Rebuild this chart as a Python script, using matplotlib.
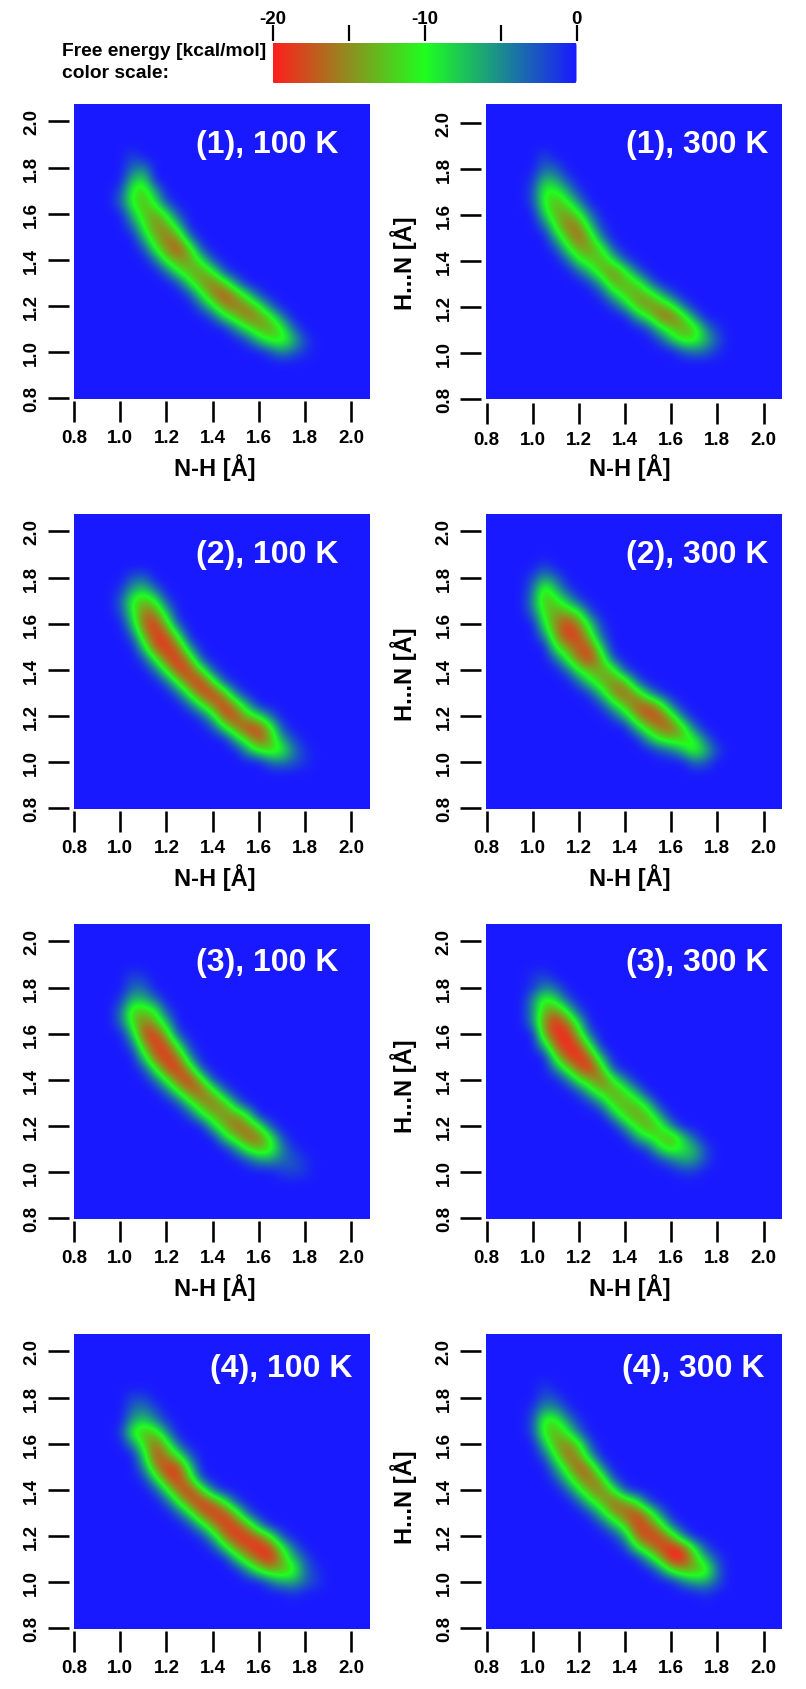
import numpy as np
import matplotlib
matplotlib.use("Agg")
import matplotlib.pyplot as plt
from matplotlib.colors import LinearSegmentedColormap, Normalize
from matplotlib.patches import FancyBboxPatch

plt.rcParams['font.family'] = ['Liberation Sans', 'DejaVu Sans']
plt.rcParams['font.weight'] = 'bold'

# Free-energy surface, kcal/mol.
# One row per Y_ROWS level; each row = [first N-H level, values at 0.05 steps]; anything else is 0.
X_LEVELS = [round(0.80 + 0.05 * i, 2) for i in range(27)]
Y_LEVELS = [round(2.10 - 0.05 * i, 2) for i in range(27)]
Y_ROWS = [1.85, 1.80, 1.75, 1.70, 1.65, 1.60, 1.55, 1.50, 1.45, 1.40,
          1.35, 1.30, 1.25, 1.20, 1.15, 1.10, 1.05, 1.00, 0.95]
# Correction of my eye readings, which ran shallow on the flanks of the band.
READ_SCALE = 18.0
READ_POWER = 0.8

P1_100 = [
    [1.05, -1], [1.05, -2, -3], [1.05, -5, -7], [1.00, -1, -8, -10, -4],
    [1.00, -2, -8, -11, -7, -1], [1.05, -5, -10, -12, -7, -1], [1.05, -2, -8, -13, -12, -5],
    [1.10, -5, -11, -14, -12, -2], [1.10, -1, -8, -13, -16, -10, -1], [1.15, -2, -9, -12, -12, -7, -1],
    [1.20, -2, -8, -11, -12, -8, -1], [1.25, -1, -7, -12, -14, -10, -3], [1.30, -1, -7, -13, -16, -12, -6, -1],
    [1.35, -2, -7, -13, -14, -13, -8, -2], [1.40, -1, -6, -10, -14, -13, -9, -3], [1.50, -3, -7, -11, -12, -8, -2],
    [1.55, -1, -5, -8, -9, -5, -1], [1.65, -1, -3, -1.5, -.5], []]
P1_300 = [
    [1.05, -1], [1.05, -2, -1.5], [1.00, -.5, -5, -4, -1], [1.00, -1, -8, -8, -4, -.5],
    [1.00, -1, -8, -11, -8, -3], [1.05, -6, -11, -12, -8, -2], [1.05, -2, -9, -14, -13, -5, -.5],
    [1.10, -5, -11, -15, -10, -2], [1.10, -1, -7, -12, -12, -8, -1], [1.15, -2, -8, -10, -11, -6, -1],
    [1.20, -2, -6, -11, -13, -8, -2], [1.25, -1, -5, -12, -11, -9, -3], [1.30, -1, -6, -10, -12, -10, -5, -1],
    [1.35, -1, -5, -11, -13, -12, -8, -2], [1.45, -4, -8, -14, -15, -10, -3], [1.50, -1, -6, -10, -12, -10, -3, -.5],
    [1.55, -1, -5, -9, -9, -5, -1.5], [1.65, -1.5, -2.5, -2, -.5], []]
P2_100 = [
    [], [1.05, -1.5, -2], [1.00, -.5, -4, -6, -2], [1.00, -1.5, -8, -11, -8, -1],
    [1.00, -1, -7, -14, -13, -5], [1.05, -5, -15, -17, -10, -1], [1.05, -1.5, -11, -17, -16, -7],
    [1.10, -6, -16, -17, -14, -3], [1.10, -1, -8, -16, -17, -11, -1], [1.15, -2, -9, -17, -16, -9, -1],
    [1.20, -2, -9, -16, -17, -9, -1], [1.25, -2, -9, -16, -17, -11, -2], [1.30, -2, -8, -14, -17, -11, -4],
    [1.35, -1, -6, -16, -16, -10, -7, -2], [1.40, -1, -7, -13, -17, -16, -9, -1], [1.50, -5, -10, -16, -11, -4, -1],
    [1.55, -4, -8, -10, -8, -2.5, -.5], [1.65, -2, -2.5, -1.5, -.5], []]
P2_300 = [
    [1.05, -1], [1.00, -1, -4, -2], [1.00, -2, -10, -5, -1], [1.00, -3, -11, -9, -5, -1],
    [1.00, -2, -9, -12, -11, -8, -1], [1.05, -7, -13, -17, -13, -6, -.5], [1.05, -3, -12, -17, -16, -9, -1.5],
    [1.10, -8, -12, -16, -15, -5], [1.10, -2, -8, -14, -17, -10, -1], [1.15, -2, -8, -11, -12, -9, -1],
    [1.20, -2, -7, -11, -13, -11, -2], [1.25, -1, -6, -13, -15, -11, -4, -.5], [1.30, -1, -6, -11, -15, -15, -10, -2],
    [1.35, -1, -5, -12, -16, -16, -10, -2], [1.45, -5, -10, -14, -15, -10, -2], [1.50, -4, -8, -10, -10, -8, -2],
    [1.55, -1, -2, -5, -9, -5, -1], [1.70, -2, -1.5], []]
P3_100 = [
    [1.05, -1, -.5], [1.05, -2, -2], [1.00, -.5, -5, -5, -2], [1.00, -2, -10, -10, -8, -1],
    [1.00, -2, -9, -14, -11, -5], [1.05, -5, -16, -17, -10, -1], [1.05, -1.5, -11, -17, -16, -7, -.5],
    [1.10, -6, -15, -17, -14, -3], [1.10, -1, -8, -16, -17, -11, -1], [1.15, -2, -8, -15, -17, -10, -1],
    [1.20, -2, -8, -14, -15, -10, -2], [1.25, -1, -7, -12, -14, -11, -3], [1.30, -1, -7, -11, -13, -12, -7],
    [1.40, -6, -11, -15, -13, -8, -1], [1.45, -6, -10, -15, -14, -8, -1], [1.50, -3, -8, -11, -9, -3, -.5],
    [1.55, -1, -3, -3.5, -2, -1.5, -.5], [1.70, -.7, -1, -.5], []]
P3_300 = [
    [1.00, -.5, -1], [1.00, -.5, -3, -2], [1.00, -3, -9, -6, -1.5], [1.00, -3, -11, -13, -7, -1],
    [1.00, -3, -13, -19, -14, -6], [1.05, -12, -17, -18, -10, -1.5], [1.05, -5, -15, -18, -16, -7],
    [1.10, -9, -16, -18, -14, -4], [1.10, -3, -9, -15, -18, -10, -1], [1.15, -2, -8, -11, -15, -8, -3],
    [1.20, -1, -6, -10, -12, -9, -4], [1.25, -.5, -4, -10, -11, -10, -5], [1.35, -5, -10, -12, -10, -4],
    [1.40, -4, -9, -12, -9, -3], [1.45, -4, -7, -10, -12, -6, -1.5], [1.50, -1, -6, -9, -7, -5, -1],
    [1.55, -.5, -2, -4, -3.5, -1], [1.65, -.5, -.5], []]
P4_100 = [
    [], [1.05, -1, -1], [1.05, -2, -3, -1], [1.05, -4, -6, -3, -.5],
    [1.00, -.5, -8, -11, -10, -3], [1.05, -3, -9, -15, -9, -1.5], [1.10, -6, -16, -13, -8, -1.5],
    [1.10, -3, -13, -17, -16, -6], [1.10, -.5, -6, -15, -17, -10, -1], [1.15, -1, -7, -15, -17, -10, -2],
    [1.20, -1.5, -8, -15, -17, -14, -8, -1], [1.25, -1.5, -7, -15, -17, -16, -10, -1.5], [1.30, -1, -6, -13, -17, -16, -11, -3],
    [1.35, -.5, -5, -14, -17, -17, -14, -8, -1], [1.40, -.5, -6, -13, -16, -19, -16, -8, -2], [1.50, -5, -11, -15, -18, -11, -5, -1.5],
    [1.55, -3, -8, -11, -11, -9, -2, -.5], [1.65, -2, -4, -4, -2, -.7], [1.75, -.5]]
P4_300 = [
    [1.05, -.7], [1.05, -1.5, -1], [1.00, -.5, -4, -3.5, -.7], [1.00, -1, -9, -9, -3.5, -.5],
    [1.00, -1, -9, -11, -8, -2], [1.05, -5, -12, -13, -9, -1], [1.05, -1.5, -8, -15, -12, -4],
    [1.10, -4, -10, -16, -12, -2.5], [1.10, -1, -6, -12, -15, -10, -1], [1.15, -1.5, -7, -12, -14, -8, -1],
    [1.20, -1.5, -7, -11, -15, -12, -8, -1], [1.25, -1, -6, -12, -15, -16, -11, -3], [1.30, -1, -5, -10, -17, -15, -10, -2],
    [1.35, -.5, -4, -14, -17, -16, -11, -3], [1.40, -.5, -7, -12, -16, -18, -16, -7, -1], [1.50, -4, -10, -18, -18, -11, -5, -1],
    [1.55, -2, -8, -11, -11, -10, -2], [1.65, -2, -4, -4, -1.5], [1.75, -.5]]

PANELS = [[P1_100, P1_300], [P2_100, P2_300], [P3_100, P3_300], [P4_100, P4_300]]
SYSTEMS = ['(1)', '(2)', '(3)', '(4)']
TEMPS = ['100 K', '300 K']
AXIS_TICKS = [0.8, 1.0, 1.2, 1.4, 1.6, 1.8, 2.0]
SCALE_TICKS = [-20, -15, -10, -5, 0]
SCALE_LABELS = ['-20', '', '-10', '', '0']

W, H = 806, 1690
fig = plt.figure(figsize=(W / 100, H / 100), dpi=100, facecolor='white')
PT = 0.72  # points per pixel at this dpi


def add_ax(x0, y0, x1, y1):
    return fig.add_axes([x0 / W, 1 - y1 / H, (x1 - x0) / W, (y1 - y0) / H])


def fig_text(x, y, s, **kw):
    return fig.text(x / W, 1 - y / H, s, **kw)


def to_grid(rows):
    z = np.zeros((len(Y_LEVELS), len(X_LEVELS)))
    for yval, row in zip(Y_ROWS, rows):
        if row:
            i = Y_LEVELS.index(yval)
            j = X_LEVELS.index(row[0])
            z[i, j:j + len(row) - 1] = row[1:]
    return np.clip(-20.0 * (np.abs(z) / READ_SCALE) ** READ_POWER, -20, 0)


cmap = LinearSegmentedColormap.from_list(
    'fe', [(1.0, 0.12, 0.12), (0.12, 1.0, 0.12), (0.1, 0.1, 1.0)], N=512)
norm = Normalize(-20, 0)

COL_X = [73.5, 486.0]
ROW_TOP = [104.5, 514.5, 924.5, 1334.5]
SIZE_W, SIZE_H = 296.0, 295.0
XLIM = (0.797, 2.080)
YLIM = (0.797, 2.078)
TITLE_X = [[123, 140], [123, 140], [123, 140], [137, 136]]
TITLE_BASE = [49, 49, 47, 43]
YLABEL_SHIFT = [11, 12, 14, 15]
XLABEL_X = [215, 630]
half = 0.025

for r in range(4):
    for c in range(2):
        x0, y0 = COL_X[c], ROW_TOP[r]
        ax = add_ax(x0, y0, x0 + SIZE_W, y0 + SIZE_H)
        shift = 2 / 230 if (r == 0 and c == 1) else 0.0
        ax.imshow(to_grid(PANELS[r][c]), cmap=cmap, norm=norm, origin='upper',
                  extent=(X_LEVELS[0] - half, X_LEVELS[-1] + half,
                          Y_LEVELS[-1] - half + shift, Y_LEVELS[0] + half + shift),
                  interpolation='bicubic', interpolation_stage='data', aspect='auto')
        ax.set_xlim(*XLIM)
        ax.set_ylim(YLIM[0] + shift, YLIM[1] + shift)
        for s in ax.spines.values():
            s.set_visible(False)
        ax.spines['left'].set_position(('outward', 5 * PT))
        ax.spines['bottom'].set_position(('outward', (4.5 if shift else 2.5) * PT))
        ax.set_xticks(AXIS_TICKS, [f'{v:.1f}' for v in AXIS_TICKS])
        ax.set_yticks(AXIS_TICKS, [f'{v:.1f}' for v in AXIS_TICKS])
        ax.tick_params(axis='both', length=21 * PT, width=2.6 * PT, color='black',
                       labelsize=13.5, pad=5.2)
        ax.tick_params(axis='y', labelrotation=90)
        for lab in ax.get_yticklabels():
            lab.set_va('center')
        fig_text(x0 + TITLE_X[r][c], y0 + TITLE_BASE[r], f'{SYSTEMS[r]}, {TEMPS[c]}',
                 color='white', fontsize=23, ha='left', va='baseline')
        if r < 3:
            fig_text(XLABEL_X[c], y0 + SIZE_H + 68, 'N-H [Å]', fontsize=17,
                     ha='center', va='center')
        if c == 1:
            fig_text(404, y0 + SIZE_H / 2 + YLABEL_SHIFT[r], 'H...N [Å]', fontsize=17,
                     rotation=90, ha='center', va='center')

# colour scale
cax = add_ax(272.5, 44, 576.5, 83.5)
im = cax.imshow(np.array([np.linspace(SCALE_TICKS[0], SCALE_TICKS[-1], 256)]), cmap=cmap, norm=norm,
                extent=(SCALE_TICKS[0], SCALE_TICKS[-1], 0, 1), aspect='auto', interpolation='bilinear')
clip = FancyBboxPatch((-19.85, 0.04), 19.7, 0.92, boxstyle='round,pad=0.15,rounding_size=0.2',
                      mutation_aspect=0.5, transform=cax.transData, facecolor='none', edgecolor='none')
cax.add_patch(clip)
im.set_clip_path(clip)
for s in cax.spines.values():
    s.set_visible(False)
cax.set_yticks([])
cax.xaxis.tick_top()
cax.spines['top'].set_position(('outward', 2 * PT))
cax.set_xticks(SCALE_TICKS, SCALE_LABELS)
cax.tick_params(axis='x', length=16 * PT, width=2.2 * PT, labelsize=13.5, pad=-1.1)
cax.set_xlim(SCALE_TICKS[0], SCALE_TICKS[-1])

fig_text(62, 52, 'Free energy [kcal/mol]', fontsize=13.9, ha='left', va='center')
fig_text(62, 74, 'color scale:', fontsize=13.9, ha='left', va='center')

fig.savefig('out.png', dpi=100, facecolor='white')
